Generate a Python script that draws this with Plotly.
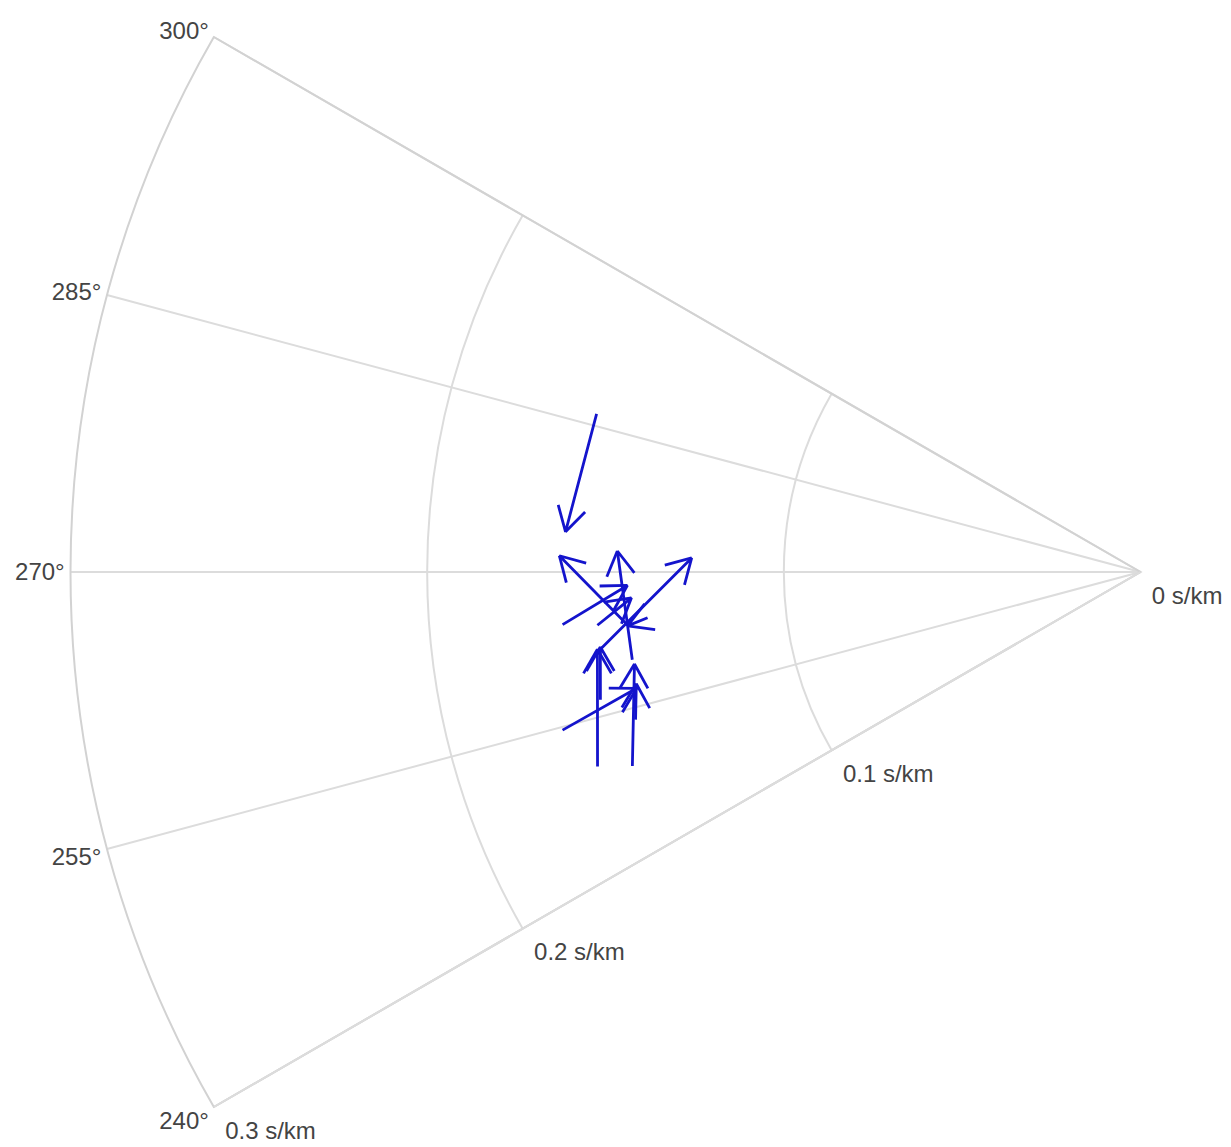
import numpy as np
import plotly.graph_objects as go

# Arrow data: start/end back-azimuth (deg) and slowness (s/km)
start_baz = [286.2, 264.1, 260.2, 261.8, 264.8, 264.4, 250.3, 256.7, 249.1, 253.7, 254.7, 264.7]
start_slow = [0.1588, 0.1446, 0.1446, 0.1532, 0.1627, 0.1530, 0.1617, 0.1556, 0.1525, 0.1475, 0.1680, 0.1388]
end_baz = [274.0, 271.6, 272.3, 271.8, 268.5, 267.1, 261.9, 262.1, 259.7, 257.5, 257.0, 264.0]
end_slow = [0.1616, 0.1630, 0.1468, 0.1259, 0.1439, 0.1429, 0.1538, 0.1529, 0.1442, 0.1448, 0.1450, 0.1446]

radial_ticks = [0, 0.1, 0.2, 0.3]
radial_labels = ["0 s/km", "0.1 s/km", "0.2 s/km", "0.3 s/km"]
angular_ticks = [240, 255, 270, 285, 300]
angular_labels = ["240°", "255°", "270°", "285°", "300°"]

HEAD_LEN = 0.0078   # s/km
HEAD_ANG = np.deg2rad(30)


def to_xy(baz, s):
    b = np.deg2rad(baz)
    return s * np.sin(b), s * np.cos(b)


def to_polar(x, y):
    return float(np.rad2deg(np.arctan2(x, y)) % 360), float(np.hypot(x, y))


def plot_theta(baz):
    # compass (clockwise from north) drawn on a counterclockwise axis
    return (360.0 - baz) % 360.0


th, rr = [], []
for b0, s0, b1, s1 in zip(start_baz, start_slow, end_baz, end_slow):
    x0, y0 = to_xy(b0, s0)
    x1, y1 = to_xy(b1, s1)
    ang = np.arctan2(y0 - y1, x0 - x1)
    w1 = (x1 + HEAD_LEN * np.cos(ang + HEAD_ANG), y1 + HEAD_LEN * np.sin(ang + HEAD_ANG))
    w2 = (x1 + HEAD_LEN * np.cos(ang - HEAD_ANG), y1 + HEAD_LEN * np.sin(ang - HEAD_ANG))
    seq = [(x0, y0), (x1, y1), w1, None, w2, (x1, y1), None]
    for p in seq:
        if p is None:
            th.append(None)
            rr.append(None)
        else:
            t, r = to_polar(*p)
            th.append(plot_theta(t))
            rr.append(r)

fig = go.Figure()
fig.add_trace(go.Scatterpolar(
    theta=th, r=rr, mode="lines",
    line=dict(color="#1414cc", width=2.8),
    hoverinfo="skip", showlegend=False,
))

fig.update_layout(
    width=1231, height=1147,
    margin=dict(l=62, r=98, t=29, b=48),
    paper_bgcolor="white",
    font=dict(family="Arial", size=24, color="#444"),
    showlegend=False,
    polar=dict(
        bgcolor="white",
        sector=[150, 210],
        radialaxis=dict(
            range=[0, 0.3], tickmode="array", tickvals=radial_ticks, ticktext=radial_labels,
            angle=210, tickangle=-150, side="counterclockwise",
            showline=True, linecolor="#dcdcdc", linewidth=2,
            gridcolor="#dcdcdc", gridwidth=2, ticks="",
            tickfont=dict(family="Arial", size=24, color="#444"),
        ),
        angularaxis=dict(
            rotation=90, direction="counterclockwise",
            tickmode="array", tickvals=[plot_theta(a) for a in angular_ticks],
            ticktext=angular_labels,
            showline=True, linecolor="#d2d2d2", linewidth=2,
            gridcolor="#dcdcdc", gridwidth=2, ticks="",
            tickfont=dict(family="Arial", size=24, color="#444"),
        ),
    ),
)

fig.write_html("out.html")
